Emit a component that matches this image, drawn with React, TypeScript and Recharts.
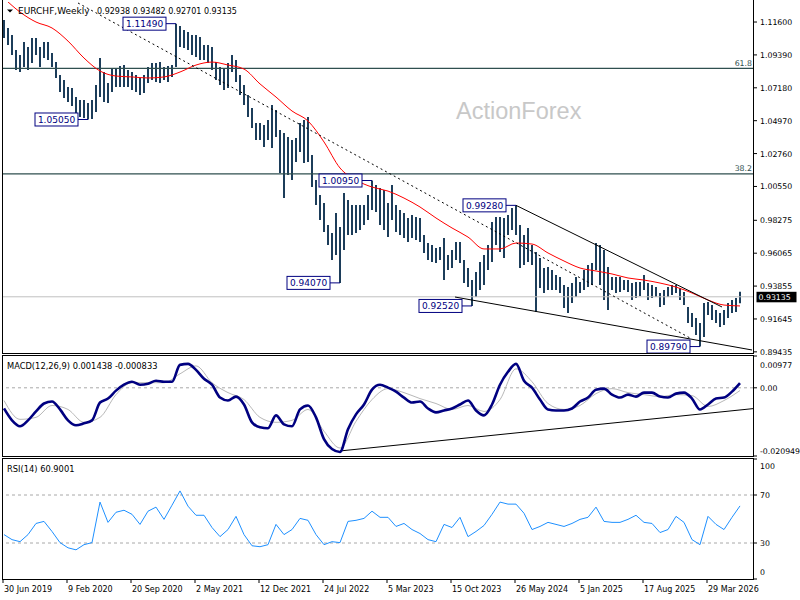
import {
  Bar,
  ComposedChart,
  Line,
  ReferenceDot,
  ReferenceLine,
  XAxis,
  YAxis
} from "recharts";

const FONT = "'DejaVu Sans', Verdana, sans-serif";

const dateLabels = [
  "30 Jun 2019", "9 Feb 2020", "20 Sep 2020", "2 May 2021", "12 Dec 2021", "24 Jul 2022",
  "5 Mar 2023", "15 Oct 2023", "26 May 2024", "5 Jan 2025", "17 Aug 2025", "29 Mar 2026"
];
const priceTicks = [1.116, 1.0939, 1.0718, 1.0497, 1.0276, 1.0055, 0.98275, 0.96065, 0.93855, 0.91645, 0.89435];
const macdTicks = [0.00977, 0, -0.020949];
const rsiTicks = [100, 70, 30, 0];

// two-week high / low, oldest first
const highs = [
  1.1174, 1.1120, 1.1073, 1.0972, 1.0938, 1.1026, 1.0992, 1.1053, 1.1053, 1.0992,
  1.1026, 1.1026, 1.0952, 1.0891, 1.0804, 1.0770, 1.0723, 1.0717, 1.0656, 1.0636,
  1.0636, 1.0616, 1.0636, 1.0737, 1.0918, 1.0824, 1.0750, 1.0851, 1.0851, 1.0864,
  1.0871, 1.0838, 1.0824, 1.0804, 1.0784, 1.0804, 1.0858, 1.0885, 1.0885, 1.0891,
  1.0858, 1.0864, 1.0871, 1.1149, 1.1133, 1.1106, 1.1093, 1.1073, 1.1073, 1.1059,
  1.1006, 1.1006, 1.0992, 1.0891, 1.0858, 1.0851, 1.0885, 1.0938, 1.0905, 1.0804,
  1.0737, 1.0670, 1.0582, 1.0481, 1.0481, 1.0468, 1.0502, 1.0602, 1.0569, 1.0434,
  1.0414, 1.0387, 1.0367, 1.0381, 1.0481, 1.0502, 1.0522, 1.0266, 1.0098, 0.9998,
  0.9944, 0.9796, 0.9742, 0.9877, 0.9783, 1.0011, 0.9964, 0.9930, 0.9930, 0.9930,
  0.9930, 0.9998, 1.0095, 1.0065, 1.0045, 1.0031, 0.9944, 1.0065, 0.9930, 0.9897,
  0.9877, 0.9843, 0.9863, 0.9850, 0.9843, 0.9729, 0.9675, 0.9662, 0.9642, 0.9648,
  0.9709, 0.9594, 0.9628, 0.9682, 0.9682, 0.9561, 0.9507, 0.9426, 0.9480, 0.9547,
  0.9594, 0.9662, 0.9816, 0.9850, 0.9850, 0.9843, 0.9863, 0.9910, 0.9928, 0.9796,
  0.9729, 0.9776, 0.9662, 0.9615, 0.9574, 0.9507, 0.9514, 0.9494, 0.9460, 0.9447,
  0.9393, 0.9379, 0.9406, 0.9447, 0.9413, 0.9494, 0.9527, 0.9541, 0.9675, 0.9662,
  0.9628, 0.9514, 0.9447, 0.9447, 0.9447, 0.9426, 0.9426, 0.9406, 0.9413, 0.9413,
  0.9460, 0.9406, 0.9393, 0.9379, 0.9339, 0.9359, 0.9379, 0.9393, 0.9393, 0.9373,
  0.9346, 0.9245, 0.9205, 0.9171, 0.9137, 0.9272, 0.9279, 0.9258, 0.9225, 0.9205,
  0.9225, 0.9272, 0.9292, 0.9305, 0.9348
];
const lows = [
  1.1053, 1.1006, 1.0938, 1.0838, 1.0824, 1.0858, 1.0838, 1.0885, 1.0938, 1.0858,
  1.0918, 1.0905, 1.0858, 1.0784, 1.0690, 1.0649, 1.0623, 1.0596, 1.0549, 1.0522,
  1.0515, 1.0505, 1.0508, 1.0555, 1.0656, 1.0623, 1.0616, 1.0690, 1.0723, 1.0723,
  1.0723, 1.0723, 1.0703, 1.0690, 1.0670, 1.0683, 1.0750, 1.0770, 1.0757, 1.0750,
  1.0770, 1.0757, 1.0791, 1.0858, 1.0992, 1.0985, 1.0972, 1.0938, 1.0925, 1.0905,
  1.0905, 1.0885, 1.0838, 1.0770, 1.0737, 1.0703, 1.0717, 1.0824, 1.0757, 1.0670,
  1.0602, 1.0522, 1.0448, 1.0367, 1.0367, 1.0320, 1.0367, 1.0313, 1.0387, 1.0145,
  0.9977, 1.0132, 1.0098, 1.0219, 1.0287, 1.0213, 1.0219, 1.0051, 0.9930, 0.9830,
  0.9749, 0.9662, 0.9561, 0.9594, 0.9407, 0.9628, 0.9729, 0.9729, 0.9742, 0.9762,
  0.9796, 0.9830, 0.9897, 0.9883, 0.9796, 0.9762, 0.9715, 0.9830, 0.9749, 0.9729,
  0.9709, 0.9682, 0.9709, 0.9695, 0.9682, 0.9608, 0.9561, 0.9547, 0.9541, 0.9561,
  0.9426, 0.9494, 0.9507, 0.9561, 0.9541, 0.9406, 0.9379, 0.9252, 0.9312, 0.9359,
  0.9393, 0.9494, 0.9547, 0.9662, 0.9615, 0.9574, 0.9729, 0.9762, 0.9729, 0.9507,
  0.9527, 0.9547, 0.9527, 0.9211, 0.9373, 0.9339, 0.9359, 0.9359, 0.9359, 0.9339,
  0.9238, 0.9205, 0.9272, 0.9312, 0.9339, 0.9359, 0.9379, 0.9393, 0.9494, 0.9393,
  0.9292, 0.9225, 0.9359, 0.9339, 0.9346, 0.9359, 0.9346, 0.9292, 0.9305, 0.9319,
  0.9359, 0.9292, 0.9305, 0.9312, 0.9245, 0.9258, 0.9312, 0.9326, 0.9339, 0.9292,
  0.9258, 0.9137, 0.9111, 0.9057, 0.8979, 0.9043, 0.9191, 0.9158, 0.9137, 0.9111,
  0.9124, 0.9171, 0.9205, 0.9211, 0.9270
];

// red moving average, one reading every 8 weeks
const maLine = [
  1.1320, 1.1227, 1.1160, 1.1120, 1.1032, 1.0918, 1.0831, 1.0797, 1.0791, 1.0784,
  1.0791, 1.0824, 1.0871, 1.0891, 1.0871, 1.0844, 1.0744, 1.0656, 1.0562, 1.0495,
  1.0354, 1.0179, 1.0098, 1.0051, 1.0024, 0.9977, 0.9917, 0.9843, 0.9776, 0.9715,
  0.9635, 0.9635, 0.9675, 0.9668, 0.9608, 0.9554, 0.9507, 0.9487, 0.9467, 0.9440,
  0.9426, 0.9406, 0.9379, 0.9339, 0.9292, 0.9258, 0.9252
];

// MACD main line every 4 weeks
const macdLine = [
  -0.00635, -0.01000, -0.01182, -0.01000, -0.00726, -0.00483, -0.00422, -0.00665, -0.01000, -0.01152,
  -0.01091, -0.01000, -0.00452, -0.00331, -0.00087, 0.00095, 0.00186, 0.00095, 0.00126, 0.00217,
  0.00186, 0.00186, 0.00704, 0.00734, 0.00551, 0.00278, 0.00095, -0.00300, -0.00391, -0.00270,
  -0.00513, -0.01061, -0.01213, -0.01243, -0.00848, -0.01121, -0.01182, -0.00665, -0.00543, -0.00908,
  -0.01578, -0.01882, -0.01973, -0.01273, -0.00817, -0.00513, -0.00057, 0.00095, 0.00004, -0.00118,
  -0.00300, -0.00452, -0.00422, -0.00635, -0.00756, -0.00696, -0.00635, -0.00513, -0.00391, -0.00696,
  -0.00848, -0.00513, 0.00095, 0.00491, 0.00734, 0.00217, 0.00004, -0.00361, -0.00665, -0.00696,
  -0.00696, -0.00635, -0.00422, -0.00300, -0.00057, -0.00026, -0.00209, -0.00300, -0.00209, -0.00270,
  -0.00148, -0.00148, -0.00270, -0.00300, -0.00179, -0.00148, -0.00331, -0.00665, -0.00513, -0.00331,
  -0.00300, -0.00118, 0.00144
];
// signal line every 8 weeks
const signalLine = [
  -0.00391, -0.00969, -0.00908, -0.00543, -0.00665, -0.01061, -0.00908, -0.00209, 0.00156, 0.00156,
  0.00156, 0.00430, 0.00673, 0.00156, -0.00148, -0.00361, -0.00908, -0.01061, -0.01000, -0.00665,
  -0.01334, -0.01851, -0.01030, -0.00361, -0.00026, -0.00148, -0.00331, -0.00483, -0.00665, -0.00543,
  -0.00726, -0.00361, 0.00582, 0.00186, -0.00483, -0.00665, -0.00543, -0.00179, -0.00026, -0.00148,
  -0.00209, -0.00270, -0.00209, -0.00240, -0.00574, -0.00391, -0.00083
];

// RSI(14) every 4 weeks
const rsiLine = [
  37.0, 32.8, 31.1, 37.0, 46.3, 48.0, 39.6, 30.3, 26.0, 24.3,
  28.6, 30.3, 64.1, 47.2, 55.6, 57.3, 53.9, 45.5, 56.5, 59.9,
  49.7, 61.5, 73.4, 60.7, 53.1, 53.1, 42.9, 35.3, 41.2, 52.2,
  37.0, 27.7, 26.9, 28.6, 45.5, 37.0, 41.2, 50.5, 48.9, 37.0,
  28.6, 31.1, 30.3, 48.0, 48.9, 50.5, 56.5, 51.4, 51.4, 43.8,
  46.3, 41.2, 37.9, 32.8, 31.1, 45.5, 42.9, 51.4, 35.3, 39.6,
  44.6, 53.9, 64.1, 62.4, 62.4, 54.8, 41.2, 43.8, 47.2, 45.5,
  43.8, 46.3, 49.7, 51.4, 59.9, 48.0, 47.2, 47.2, 49.7, 53.1,
  47.2, 46.3, 38.7, 41.2, 52.2, 47.2, 32.8, 28.6, 52.2, 45.5,
  41.2, 51.4, 60.9
];

// swing highs/lows marked with boxes (week index, price)
const swingWeeks = [86.5, 42.5, 184.5, 168.5, 256.5, 234.5, 348.5];
const swingPrices = [1.1149, 1.0505, 1.0095, 0.9407, 0.9928, 0.9252, 0.8979];

const fibNames = ["61.8", "38.2"];
const fibPrices = [1.0849, 1.0139];

const lastPrice = 0.93135;
const headerValues = "0.92938 0.93482 0.92701 0.93135";

// trendlines: [week, value] pairs
const trendDotted = [[37.5, 1.1288], [343.5, 0.90366]];
const trendUpper = [[256.5, 0.9928], [359.5, 0.9245]];
const trendLower = [[226, 0.9312], [374.5, 0.8956]];
const trendMacd = [[168.5, -0.0194], [375, -0.0064]];

const rows = highs.map((h, k) => ({
  week: 2 * k + 0.5,
  range: [lows[k], h],
  ma: k % 4 === 0 ? maLine[k / 4] : null,
  sig: k % 4 === 0 ? signalLine[k / 4] : null,
  macd: k % 2 === 0 ? macdLine[k / 2] : null,
  rsi: k % 2 === 0 ? rsiLine[k / 2] : null
}));

const X_DOMAIN = [0, 375];
const dateTicks = dateLabels.map((_, i) => i * 32);

function PriceTick(props: any) {
  const { x, y, payload } = props;
  return (
    <text x={x} y={y} dy={3} fontSize={7.8} fontFamily={FONT} fill="#000">
      {payload.value.toFixed(5)}
    </text>
  );
}

function MacdTick(props: any) {
  const { x, y, payload } = props;
  const v = payload.value;
  const shift = v === macdTicks[0] ? 9 : v === macdTicks[2] ? -5 : 0;
  const txt = v === 0 ? "0.00" : String(v);
  return (
    <text x={x} y={y + shift} dy={3} fontSize={7.8} fontFamily={FONT} fill="#000">
      {txt}
    </text>
  );
}

function RsiTick(props: any) {
  const { x, y, payload } = props;
  const v = payload.value;
  const shift = v === 100 ? 7 : v === 0 ? -7 : 0;
  return (
    <text x={x} y={y + shift} dy={3} fontSize={7.8} fontFamily={FONT} fill="#000">
      {v}
    </text>
  );
}

function DateTick(props: any) {
  const { x, y, payload } = props;
  return (
    <text x={x + 1} y={y} dy={7} fontSize={8} fontFamily={FONT} fill="#000" textAnchor="start">
      {dateLabels[Math.round(payload.value / 32)]}
    </text>
  );
}

function SwingBox({ cx, cy, text }: any) {
  return (
    <g>
      <line x1={cx - 10} y1={cy} x2={cx} y2={cy} stroke="#000080" strokeWidth={1} />
      <rect x={cx - 53} y={cy - 6.5} width={43} height={13} fill="#fff" stroke="#000080" strokeWidth={1} />
      <text x={cx - 31.5} y={cy + 3.3} textAnchor="middle" fontSize={9} fontFamily={FONT} fill="#000080">
        {text}
      </text>
    </g>
  );
}

function FibTag({ cx, cy, text }: any) {
  return (
    <text x={cx - 1} y={cy - 2.5} textAnchor="end" fontSize={7.8} fontFamily={FONT} fill="#2f4f4f">
      {text}
    </text>
  );
}

function LastPriceTag({ cx, cy, text }: any) {
  return (
    <g>
      <rect x={cx + 3.5} y={cy - 5} width={40} height={10.5} fill="#000" />
      <text x={cx + 5.5} y={cy + 3.3} fontSize={7.8} fontFamily={FONT} fill="#fff">
        {text}
      </text>
    </g>
  );
}

const frame = (top: number, height: number, withTop: boolean) => ({
  position: "absolute" as const,
  left: 2,
  top,
  width: 752,
  height,
  boxSizing: "border-box" as const,
  borderLeft: "1px solid #000",
  borderRight: "1px solid #000",
  borderBottom: "1px solid #000",
  borderTop: withTop ? "1px solid #000" : "none",
  pointerEvents: "none" as const
});

export default function App() {
  return (
    <div
      style={{
        position: "absolute",
        left: 0,
        top: 0,
        width: 800,
        height: 600,
        background: "#fff",
        overflow: "hidden",
        fontFamily: FONT
      }}
    >
      <style>{`.recharts-surface { overflow: visible; }`}</style>
      <svg width={800} height={600} style={{ position: "absolute", left: 0, top: 0 }}>
        <text x={456} y={118.5} fontSize={23.5} fontFamily="'Liberation Sans', Arial, sans-serif" fill="#c8c8c8">
          ActionForex
        </text>
      </svg>

      {/* price panel */}
      <div style={{ position: "absolute", left: 0, top: 0 }}>
        <ComposedChart width={800} height={354} data={rows} margin={{ top: 2, right: 0, bottom: 1, left: 3 }}>
          <XAxis dataKey="week" type="number" domain={X_DOMAIN} hide allowDataOverflow />
          <YAxis
            orientation="right"
            width={47}
            domain={[0.89358, 1.12946]}
            allowDataOverflow
            ticks={priceTicks}
            interval={0}
            axisLine={false}
            tickLine={{ stroke: "#000" }}
            tickSize={4}
            tickMargin={3}
            tick={<PriceTick />}
          />
          {fibPrices.map((p, i) => (
            <ReferenceLine key={fibNames[i]} y={p} stroke="#2f4f4f" strokeWidth={1.2} />
          ))}
          <ReferenceLine y={lastPrice} stroke="#c0c0c0" strokeWidth={1} />
          <Bar dataKey="range" barSize={2} fill="#1c3d5a" isAnimationActive={false} />
          <Line
            dataKey="ma"
            type="monotone"
            stroke="#ff0000"
            strokeWidth={1}
            dot={false}
            connectNulls
            isAnimationActive={false}
          />
          <ReferenceLine
            segment={[{ x: trendDotted[0][0], y: trendDotted[0][1] }, { x: trendDotted[1][0], y: trendDotted[1][1] }]}
            stroke="#000"
            strokeDasharray="2 3"
          />
          <ReferenceLine
            segment={[{ x: trendUpper[0][0], y: trendUpper[0][1] }, { x: trendUpper[1][0], y: trendUpper[1][1] }]}
            stroke="#000"
          />
          <ReferenceLine
            segment={[{ x: trendLower[0][0], y: trendLower[0][1] }, { x: trendLower[1][0], y: trendLower[1][1] }]}
            stroke="#000"
          />
          {fibPrices.map((p, i) => (
            <ReferenceDot
              key={"f" + i}
              x={375}
              y={p}
              r={0}
              ifOverflow="visible"
              shape={(sp: any) => <FibTag cx={sp.cx} cy={sp.cy} text={fibNames[i]} />}
            />
          ))}
          <ReferenceDot
            x={375}
            y={lastPrice}
            r={0}
            ifOverflow="visible"
            shape={(sp: any) => <LastPriceTag cx={sp.cx} cy={sp.cy} text={lastPrice.toFixed(5)} />}
          />
          {swingWeeks.map((w, i) => (
            <ReferenceDot
              key={"s" + i}
              x={w}
              y={swingPrices[i]}
              r={0}
              ifOverflow="visible"
              shape={(sp: any) => <SwingBox cx={sp.cx} cy={sp.cy} text={swingPrices[i].toFixed(5)} />}
            />
          ))}
        </ComposedChart>
      </div>

      {/* MACD panel */}
      <div style={{ position: "absolute", left: 0, top: 356 }}>
        <ComposedChart width={800} height={100} data={rows} margin={{ top: 0, right: 0, bottom: 0, left: 3 }}>
          <XAxis dataKey="week" type="number" domain={X_DOMAIN} hide allowDataOverflow />
          <YAxis
            orientation="right"
            width={47}
            domain={[-0.020949, 0.00977]}
            allowDataOverflow
            ticks={macdTicks}
            interval={0}
            axisLine={false}
            tickLine={{ stroke: "#000" }}
            tickSize={4}
            tickMargin={3}
            tick={<MacdTick />}
          />
          <ReferenceLine y={0} stroke="#a8a8a8" strokeDasharray="3 3" />
          <ReferenceLine
            segment={[{ x: trendMacd[0][0], y: trendMacd[0][1] }, { x: trendMacd[1][0], y: trendMacd[1][1] }]}
            stroke="#000"
          />
          <Line
            dataKey="sig"
            type="monotone"
            stroke="#b8b8b8"
            strokeWidth={1}
            dot={false}
            connectNulls
            isAnimationActive={false}
          />
          <Line
            dataKey="macd"
            type="monotone"
            stroke="#000080"
            strokeWidth={2.6}
            dot={false}
            connectNulls
            isAnimationActive={false}
          />
        </ComposedChart>
      </div>

      {/* RSI panel */}
      <div style={{ position: "absolute", left: 0, top: 459 }}>
        <ComposedChart width={800} height={141} data={rows} margin={{ top: 0, right: 0, bottom: 0, left: 3 }}>
          <XAxis
            dataKey="week"
            type="number"
            domain={X_DOMAIN}
            allowDataOverflow
            ticks={dateTicks}
            interval={0}
            height={21}
            axisLine={false}
            tickLine={{ stroke: "#000" }}
            tickSize={4}
            tickMargin={2}
            tick={<DateTick />}
          />
          <YAxis
            orientation="right"
            width={47}
            domain={[0, 100]}
            allowDataOverflow
            ticks={rsiTicks}
            interval={0}
            axisLine={false}
            tickLine={{ stroke: "#000" }}
            tickSize={4}
            tickMargin={3}
            tick={<RsiTick />}
          />
          <ReferenceLine y={70} stroke="#a8a8a8" strokeDasharray="3 3" />
          <ReferenceLine y={30} stroke="#a8a8a8" strokeDasharray="3 3" />
          <Line
            dataKey="rsi"
            type="linear"
            stroke="#1e90ff"
            strokeWidth={1}
            dot={false}
            connectNulls
            isAnimationActive={false}
          />
        </ComposedChart>
      </div>

      <div style={frame(0, 354, false)} />
      <div style={frame(355, 102, true)} />
      <div style={frame(458, 122, true)} />

      <svg width={800} height={600} style={{ position: "absolute", left: 0, top: 0, pointerEvents: "none" }}>
        <polygon points="7,9.5 13,9.5 10,12.5" fill="#000" />
        <text x={18} y={13.5} fontSize={9} fontFamily={FONT} fill="#000">
          EURCHF,Weekly
        </text>
        <text x={97} y={13.5} fontSize={8} fontFamily={FONT} fill="#000">
          {headerValues}
        </text>
        <text x={7} y={369} fontSize={8.3} fontFamily={FONT} fill="#000">
          MACD(12,26,9) 0.001438 -0.000833
        </text>
        <text x={7} y={471.5} fontSize={8.3} fontFamily={FONT} fill="#000">
          RSI(14) 60.9001
        </text>
      </svg>
    </div>
  );
}
